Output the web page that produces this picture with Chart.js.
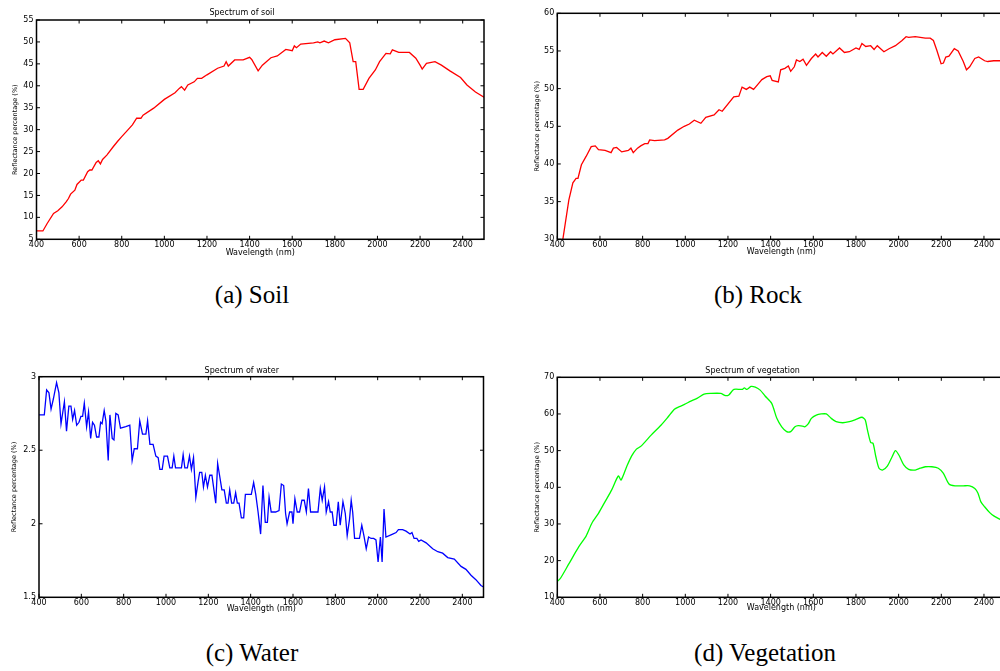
<!DOCTYPE html>
<html>
<head>
<meta charset="utf-8">
<script src="https://cdn.jsdelivr.net/npm/chart.js@4.4.0/dist/chart.umd.min.js"></script>
<style>
  html, body { margin: 0; padding: 0; background: #fff; width: 1000px; height: 671px; overflow: hidden; position: relative; }
  canvas { position: absolute; }
  .cap { position: absolute; width: 300px; text-align: center; font-family: "Liberation Serif", serif; font-size: 25px; line-height: 25px; color: #000; }
</style>
</head>
<body>
<canvas id="soil" width="500" height="265" style="left:0;top:0"></canvas>
<canvas id="rock" width="520" height="265" style="left:500px;top:0"></canvas>
<canvas id="water" width="500" height="265" style="left:0;top:355px"></canvas>
<canvas id="veg" width="520" height="265" style="left:500px;top:355px"></canvas>
<div class="cap" id="capA" style="left:102px;top:282px"></div>
<div class="cap" id="capB" style="left:608px;top:282px"></div>
<div class="cap" id="capC" style="left:102px;top:640px"></div>
<div class="cap" id="capD" style="left:615px;top:640px"></div>
<script>
// wavelengths (nm) and reflectance (%)
const soilNm = [400,430,450,480,500,520,540,550,560,580,590,610,620,640,650,660,680,690,700,710,730,760,780,800,830,850,870,890,900,950,1000,1050,1070,1080,1095,1110,1140,1155,1175,1200,1250,1280,1290,1300,1330,1370,1400,1410,1440,1460,1500,1530,1570,1600,1610,1620,1640,1700,1720,1730,1750,1770,1800,1850,1870,1886,1898,1914,1933,1960,1990,2010,2040,2060,2070,2100,2150,2180,2200,2210,2230,2270,2300,2340,2390,2420,2460,2500];
const soilRef = [6.9,6.9,8.6,10.9,11.5,12.4,13.6,14.3,15.3,16.2,17.5,18.5,18.5,20.4,20.8,20.8,22.5,22.9,22.2,23.2,24.2,26.1,27.3,28.4,30.0,31.1,32.6,32.6,33.3,34.9,36.9,38.4,39.4,39.8,39.0,40.2,40.9,41.7,41.7,42.5,44.0,44.5,45.5,44.5,45.9,45.9,46.5,46.0,43.4,44.7,46.4,46.8,48.3,48.0,49.1,48.7,49.5,49.8,50.0,49.8,50.2,49.8,50.5,50.8,49.8,45.5,45.5,39.2,39.2,41.7,43.6,45.5,47.4,47.3,48.2,47.6,47.6,46.3,44.7,43.8,45.1,45.5,44.7,43.4,41.9,40.2,38.6,37.4];

const rockNm = [400,426,454,473,488,497,513,535,559,578,593,624,652,663,678,702,733,745,756,776,791,810,825,833,856,903,918,965,995,1019,1042,1073,1096,1135,1158,1173,1227,1251,1266,1286,1302,1320,1344,1359,1382,1398,1407,1436,1447,1467,1483,1494,1511,1521,1537,1552,1568,1591,1611,1622,1642,1661,1681,1692,1723,1746,1769,1800,1815,1828,1846,1869,1885,1900,1931,1955,1985,2016,2035,2047,2078,2125,2148,2163,2179,2199,2210,2221,2236,2261,2279,2303,2318,2333,2357,2375,2403,2418,2446,2500];
const rockRef = [25.5,30.0,35.2,37.5,38.1,38.1,39.9,41.0,42.3,42.4,41.9,41.8,41.5,42.1,42.2,41.6,41.8,42.1,41.5,42.1,42.4,42.7,42.7,43.2,43.1,43.2,43.4,44.5,45.0,45.3,45.8,45.4,46.2,46.5,47.2,47.0,48.9,49.0,50.2,49.9,50.2,49.9,50.7,51.2,51.6,51.7,51.1,50.9,52.5,52.7,53.0,52.3,52.9,53.8,53.6,53.9,53.1,54.0,54.6,54.2,54.8,54.3,54.9,54.6,55.4,54.8,54.9,55.4,55.2,56.0,55.6,55.7,55.2,55.7,54.9,55.3,55.7,56.4,56.9,56.8,56.9,56.7,56.7,56.4,55.1,53.3,53.4,54.2,54.3,55.3,55.0,53.6,52.5,52.9,54.0,54.2,53.7,53.6,53.7,53.7];

const waterNm = [400,425,436,447,457,468,483,494,504,520,530,541,551,559,568,578,589,598,606,614,625,634,644,653,662,672,683,691,698,708,716,727,735,746,754,763,774,785,810,829,840,850,865,876,889,905,913,924,939,952,963,971,982,991,1007,1018,1029,1037,1045,1073,1081,1089,1101,1111,1120,1130,1141,1152,1159,1169,1177,1186,1196,1207,1217,1235,1244,1253,1264,1275,1285,1293,1301,1310,1320,1329,1337,1345,1356,1367,1375,1387,1403,1414,1424,1435,1447,1458,1469,1479,1487,1497,1518,1534,1545,1556,1565,1572,1584,1595,1600,1609,1620,1631,1642,1653,1663,1673,1683,1718,1729,1738,1749,1757,1768,1776,1785,1793,1804,1814,1823,1836,1847,1856,1867,1875,1882,1891,1914,1925,1935,1946,1957,1969,1981,1992,2002,2013,2021,2030,2039,2071,2087,2098,2118,2134,2153,2162,2172,2185,2194,2205,2229,2260,2284,2307,2331,2362,2394,2417,2441,2464,2488,2500];
const waterRef = [2.74,2.74,2.91,2.89,2.78,2.85,2.96,2.89,2.68,2.83,2.63,2.80,2.80,2.71,2.77,2.67,2.69,2.73,2.73,2.82,2.66,2.76,2.58,2.69,2.67,2.59,2.59,2.69,2.68,2.77,2.70,2.43,2.74,2.58,2.57,2.75,2.74,2.65,2.66,2.67,2.43,2.51,2.51,2.70,2.61,2.61,2.70,2.54,2.54,2.46,2.45,2.37,2.37,2.46,2.46,2.38,2.38,2.46,2.38,2.38,2.47,2.38,2.38,2.46,2.37,2.45,2.18,2.29,2.35,2.35,2.25,2.33,2.25,2.33,2.33,2.14,2.41,2.33,2.23,2.23,2.14,2.14,2.23,2.14,2.14,2.21,2.14,2.14,2.04,2.04,2.20,2.20,2.20,2.28,2.20,2.08,1.93,2.26,2.01,2.01,2.18,2.08,2.08,2.09,2.27,2.26,2.07,2.00,2.08,2.08,2.00,2.17,2.08,2.08,2.16,2.16,2.08,2.24,2.08,2.08,2.24,2.16,2.25,2.08,2.15,2.08,2.08,1.99,1.99,2.15,1.99,2.15,2.07,1.92,2.03,2.16,2.08,1.90,1.90,1.99,1.92,1.83,1.91,1.90,1.90,1.89,1.74,1.91,1.74,2.10,1.91,1.93,1.94,1.96,1.96,1.95,1.93,1.94,1.90,1.90,1.88,1.89,1.87,1.83,1.81,1.80,1.77,1.76,1.71,1.69,1.65,1.62,1.58,1.57];

const vegNm = [400,415,454,501,535,562,593,624,655,686,699,725,748,771,794,841,887,918,949,972,996,1026,1057,1088,1119,1166,1189,1204,1228,1266,1277,1289,1308,1328,1351,1374,1405,1429,1452,1475,1494,1514,1529,1549,1560,1576,1591,1614,1637,1661,1684,1707,1738,1769,1800,1828,1843,1854,1869,1880,1893,1908,1924,1947,1970,1985,2001,2024,2047,2078,2101,2125,2156,2186,2210,2236,2264,2303,2333,2357,2372,2385,2403,2427,2446,2500];
const vegRef = [14.3,15.2,19.1,23.8,26.7,30.2,32.9,36.1,39.3,43.1,42.0,45.6,48.5,50.4,51.3,54.3,57.0,59.1,61.3,62.0,62.6,63.5,64.3,65.4,65.6,65.6,65.0,65.2,66.7,66.7,67.1,66.7,67.5,67.3,66.5,64.9,62.9,58.8,56.5,55.2,55.2,56.5,56.8,56.7,56.5,57.3,58.8,59.7,60.0,60.0,58.8,57.9,57.6,57.9,58.5,59.1,58.4,55.6,52.2,52.0,48.4,45.2,44.7,45.8,48.4,50.0,48.8,46.1,44.9,44.7,45.2,45.6,45.6,45.2,43.8,40.9,40.4,40.4,40.4,39.7,38.4,36.1,34.7,33.1,32.2,30.5];

// axis ticks
const xTicks = [400,600,800,1000,1200,1400,1600,1800,2000,2200,2400];
const soilYTicks = [5,10,15,20,25,30,35,40,45,50,55];
const rockYTicks = [30,35,40,45,50,55,60];
const waterYTicks = [1.5,2,2.5,3];
const vegYTicks = [10,20,30,40,50,60,70];

const titles = ['Spectrum of soil', '', 'Spectrum of water', 'Spectrum of vegetation'];
const captions = ['(a) Soil', '(b) Rock', '(c) Water', '(d) Vegetation'];

const TICK = 3.5;

Chart.defaults.font.family = '"DejaVu Sans", sans-serif';
Chart.defaults.color = '#000';

const boxPlugin = {
  id: 'box',
  afterDraw(chart) {
    const { ctx, chartArea: a, scales: { x, y } } = chart;
    ctx.save();
    ctx.strokeStyle = '#000';
    ctx.lineWidth = 1;
    ctx.beginPath();
    x.ticks.forEach(t => {
      const px = x.getPixelForValue(t.value);
      ctx.moveTo(px, a.bottom); ctx.lineTo(px, a.bottom - TICK);
      ctx.moveTo(px, a.top); ctx.lineTo(px, a.top + TICK);
    });
    y.ticks.forEach(t => {
      const py = y.getPixelForValue(t.value);
      ctx.moveTo(a.left, py); ctx.lineTo(a.left + TICK, py);
      ctx.moveTo(a.right, py); ctx.lineTo(a.right - TICK, py);
    });
    ctx.stroke();
    ctx.lineWidth = 1.5;
    ctx.strokeRect(a.left, a.top, a.right - a.left, a.bottom - a.top);
    ctx.restore();
  }
};

function makeChart(id, nm, ref, color, yTicks, title, box, tension) {
  const canvas = document.getElementById(id);
  const hasTitle = title !== '';
  const xTitleBottom = box.xTitle + 4.8;

  return new Chart(canvas, {
    type: 'line',
    data: {
      datasets: [{
        data: nm.map((v, i) => ({ x: v, y: ref[i] })),
        borderColor: color,
        borderWidth: 1.3,
        pointRadius: 0,
        tension: tension
      }]
    },
    options: {
      responsive: false,
      devicePixelRatio: 1,
      animation: false,
      layout: {
        padding: {
          left: 0,
          top: hasTitle ? 0 : box.top,
          right: canvas.width - box.right,
          bottom: canvas.height - xTitleBottom
        }
      },
      plugins: {
        legend: { display: false },
        tooltip: { enabled: false },
        title: {
          display: hasTitle,
          text: title,
          font: { size: 8, weight: 'normal', lineHeight: 1.2 },
          color: '#000',
          padding: { top: box.titleY - 4.8, bottom: box.top - box.titleY - 4.8 }
        }
      },
      scales: {
        x: {
          type: 'linear',
          min: 400,
          max: 2500,
          grid: { display: false, drawTicks: false },
          border: { display: false },
          afterBuildTicks: axis => { axis.ticks = xTicks.map(v => ({ value: v })); },
          afterFit: axis => { axis.height = xTitleBottom - box.bottom; },
          ticks: {
            autoSkip: false,
            maxRotation: 0,
            padding: 1,
            font: { size: 8, lineHeight: 1.2 },
            callback: v => String(v)
          },
          title: {
            display: true,
            text: 'Wavelength (nm)',
            font: { size: 8, lineHeight: 1.2 },
            padding: { top: 0, bottom: 0 }
          }
        },
        y: {
          min: yTicks[0],
          max: yTicks[yTicks.length - 1],
          grid: { display: false, drawTicks: false },
          border: { display: false },
          afterBuildTicks: axis => { axis.ticks = yTicks.map(v => ({ value: v })); },
          afterFit: axis => { axis.width = box.left; },
          ticks: {
            padding: 3,
            font: { size: 8, lineHeight: 1.2 },
            callback: v => String(v)
          },
          title: {
            display: true,
            text: 'Reflectance percentage (%)',
            font: { size: 6.5, lineHeight: 1.2 },
            padding: { top: box.yTitle - 3.9, bottom: 0 }
          }
        }
      }
    },
    plugins: [boxPlugin]
  });
}

makeChart('soil', soilNm, soilRef, '#ff0000', soilYTicks, titles[0],
  { left: 36.5, top: 20, right: 484, bottom: 239.3, titleY: 12.7, xTitle: 252.5, yTitle: 15 }, 0);
makeChart('rock', rockNm, rockRef, '#ff0000', rockYTicks, titles[1],
  { left: 57.3, top: 13.3, right: 505.3, bottom: 239.3, titleY: 6, xTitle: 252.3, yTitle: 37.5 }, 0);
makeChart('water', waterNm, waterRef, '#0000ff', waterYTicks, titles[2],
  { left: 39, top: 21.7, right: 483.5, bottom: 242.3, titleY: 15.7, xTitle: 254.3, yTitle: 14.2 }, 0);
makeChart('veg', vegNm, vegRef, '#00ff00', vegYTicks, titles[3],
  { left: 57.3, top: 22.3, right: 505.3, bottom: 242.3, titleY: 15.7, xTitle: 253.3, yTitle: 37.5 }, 0.25);

['capA', 'capB', 'capC', 'capD'].forEach((id, i) => {
  document.getElementById(id).textContent = captions[i];
});
</script>
</body>
</html>
